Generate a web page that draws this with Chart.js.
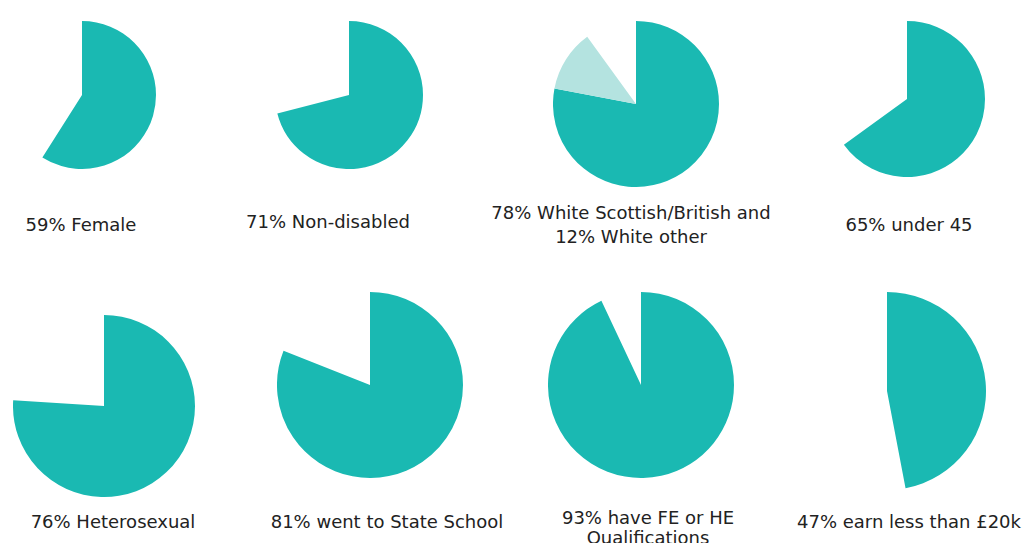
<!DOCTYPE html>
<html>
<head>
<meta charset="utf-8">
<script src="https://cdn.jsdelivr.net/npm/chart.js@4"></script>
<style>
  body { margin: 0; background: #fff; width: 1026px; height: 543px; position: relative; overflow: hidden; }
  canvas { position: absolute; }
  .label {
    position: absolute;
    font-family: "DejaVu Sans", Verdana, sans-serif;
    font-size: 18px;
    color: #222;
    text-align: center;
    white-space: nowrap;
    transform: translateX(-50%);
  }
</style>
</head>
<body>
<script>
// 数据
const captions = [
    ['59% Female'],
    ['71% Non-disabled'],
    ['78% White Scottish/British and', '12% White other'],
    ['65% under 45'],
    ['76% Heterosexual'],
    ['81% went to State School'],
    ['93% have FE or HE', 'Qualifications'],
    ['47% earn less than £20k']
];
const mainShare = [59, 71, 78, 65, 76, 81, 93, 47];
const secondShare = [0, 0, 12, 0, 0, 0, 0, 0];

// 颜色
const teal = '#1ab9b2';
const lightTeal = '#b4e3e0';

// 布局: 圆心, 半径, 标题中心 x, 标题顶部 y, 行高
const pieBoxes = [
    { cx: 82, cy: 95, r: 74, lx: 81, ly: 214, lh: 22 },
    { cx: 349, cy: 95, r: 74, lx: 328, ly: 211, lh: 22 },
    { cx: 636, cy: 104, r: 83, lx: 631, ly: 201, lh: 24 },
    { cx: 907, cy: 99, r: 78, lx: 909, ly: 214, lh: 22 },
    { cx: 104, cy: 406, r: 91, lx: 113, ly: 511, lh: 22 },
    { cx: 370, cy: 385, r: 93, lx: 387, ly: 511, lh: 22 },
    { cx: 641, cy: 385, r: 93, lx: 648, ly: 508, lh: 20 },
    { cx: 887, cy: 391, r: 99, lx: 909, ly: 511, lh: 22 }
];

mainShare.forEach((value, i) => {
    const box = pieBoxes[i];
    const canvas = document.createElement('canvas');
    canvas.width = box.r * 2;
    canvas.height = box.r * 2;
    canvas.style.left = (box.cx - box.r) + 'px';
    canvas.style.top = (box.cy - box.r) + 'px';
    document.body.appendChild(canvas);

    const rest = 100 - value - secondShare[i];
    new Chart(canvas.getContext('2d'), {
        type: 'pie',
        data: {
            labels: ['main', 'other', 'rest'],
            datasets: [{
                data: [value, secondShare[i], rest],
                backgroundColor: [teal, lightTeal, 'rgba(0,0,0,0)'],
                borderWidth: 0,
                hoverOffset: 0
            }]
        },
        options: {
            responsive: false,
            animation: false,
            devicePixelRatio: 1,
            layout: { padding: 0 },
            plugins: {
                legend: { display: false },
                tooltip: { enabled: false }
            }
        }
    });

    const label = document.createElement('div');
    label.className = 'label';
    label.style.left = box.lx + 'px';
    label.style.top = box.ly + 'px';
    label.style.lineHeight = box.lh + 'px';
    label.innerHTML = captions[i].join('<br>');
    document.body.appendChild(label);
});
</script>
</body>
</html>
